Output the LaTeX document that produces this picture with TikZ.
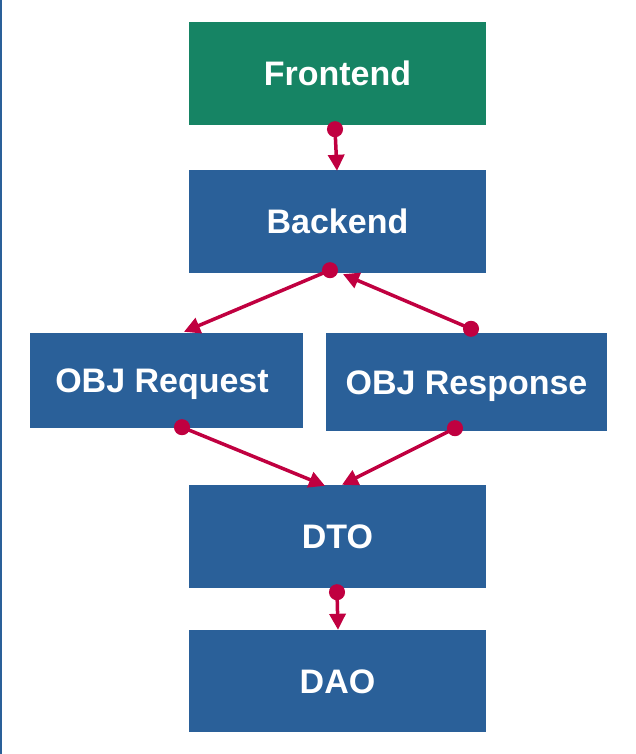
\documentclass[tikz,border=0pt]{standalone}
\usepackage{fontspec}
\setmainfont{Liberation Sans}
\usetikzlibrary{arrows.meta,calc}
\definecolor{boxblue}{RGB}{42,96,153}
\definecolor{boxgreen}{RGB}{22,132,100}
\definecolor{conred}{RGB}{192,0,64}
\tikzset{
  box/.style={draw=none, fill=boxblue, text=white, font=\fontsize{34}{36}\selectfont\bfseries, inner sep=0pt, text height=24pt, text depth=0pt},
  conn/.style={draw=conred, line width=3.5pt, shorten <=-8pt,
    {Circle[length=16pt]}-{Triangle[length=16pt,width=16pt]}}
}
\begin{document}
\begin{tikzpicture}[x=1pt,y=-1pt]
\useasboundingbox (0,0) rectangle (635,754);
\fill[white] (0,0) rectangle (635,754);
\draw[boxblue, line width=1.5pt] (0.75,0) -- (0.75,754);
\node[box, fill=boxgreen, minimum width=297pt, minimum height=103pt] (fe) at (337.5,73.5) {Frontend};
\node[box, minimum width=297pt, minimum height=103pt] (be) at (337.5,221.5) {Backend};
\node[box, minimum width=273pt, minimum height=95pt] (oreq) at (166.5,380.5) {\hspace{-9pt}OBJ Request};
\node[box, minimum width=281pt, minimum height=98pt] (ores) at (466.5,382) {OBJ Response};
\node[box, minimum width=297pt, minimum height=103pt] (dto) at (337.5,536.5) {DTO};
\node[box, minimum width=297pt, minimum height=102pt] (dao) at (337.5,681) {DAO};
\draw[conn] ($(fe.south)+(-2.5,4)$) -- ($(be.north)+(-0.5,1)$);
\draw[conn] ($(be.south)+(-7.5,-3)$) -- ($(oreq.north)+(17.5,-1)$);
\draw[conn] ($(ores.north)+(4.5,-4)$) -- ($(be.south)+(5.5,1)$);
\draw[conn] ($(oreq.south)+(15.5,-1)$) -- ($(dto.north)+(-12.5,1)$);
\draw[conn] ($(ores.south)+(-11.5,-3)$) -- ($(dto.north)+(4.5,0)$);
\draw[conn] ($(dto.south)+(-0.5,4)$) -- ($(dao.north)+(0.5,0)$);
\end{tikzpicture}
\end{document}
